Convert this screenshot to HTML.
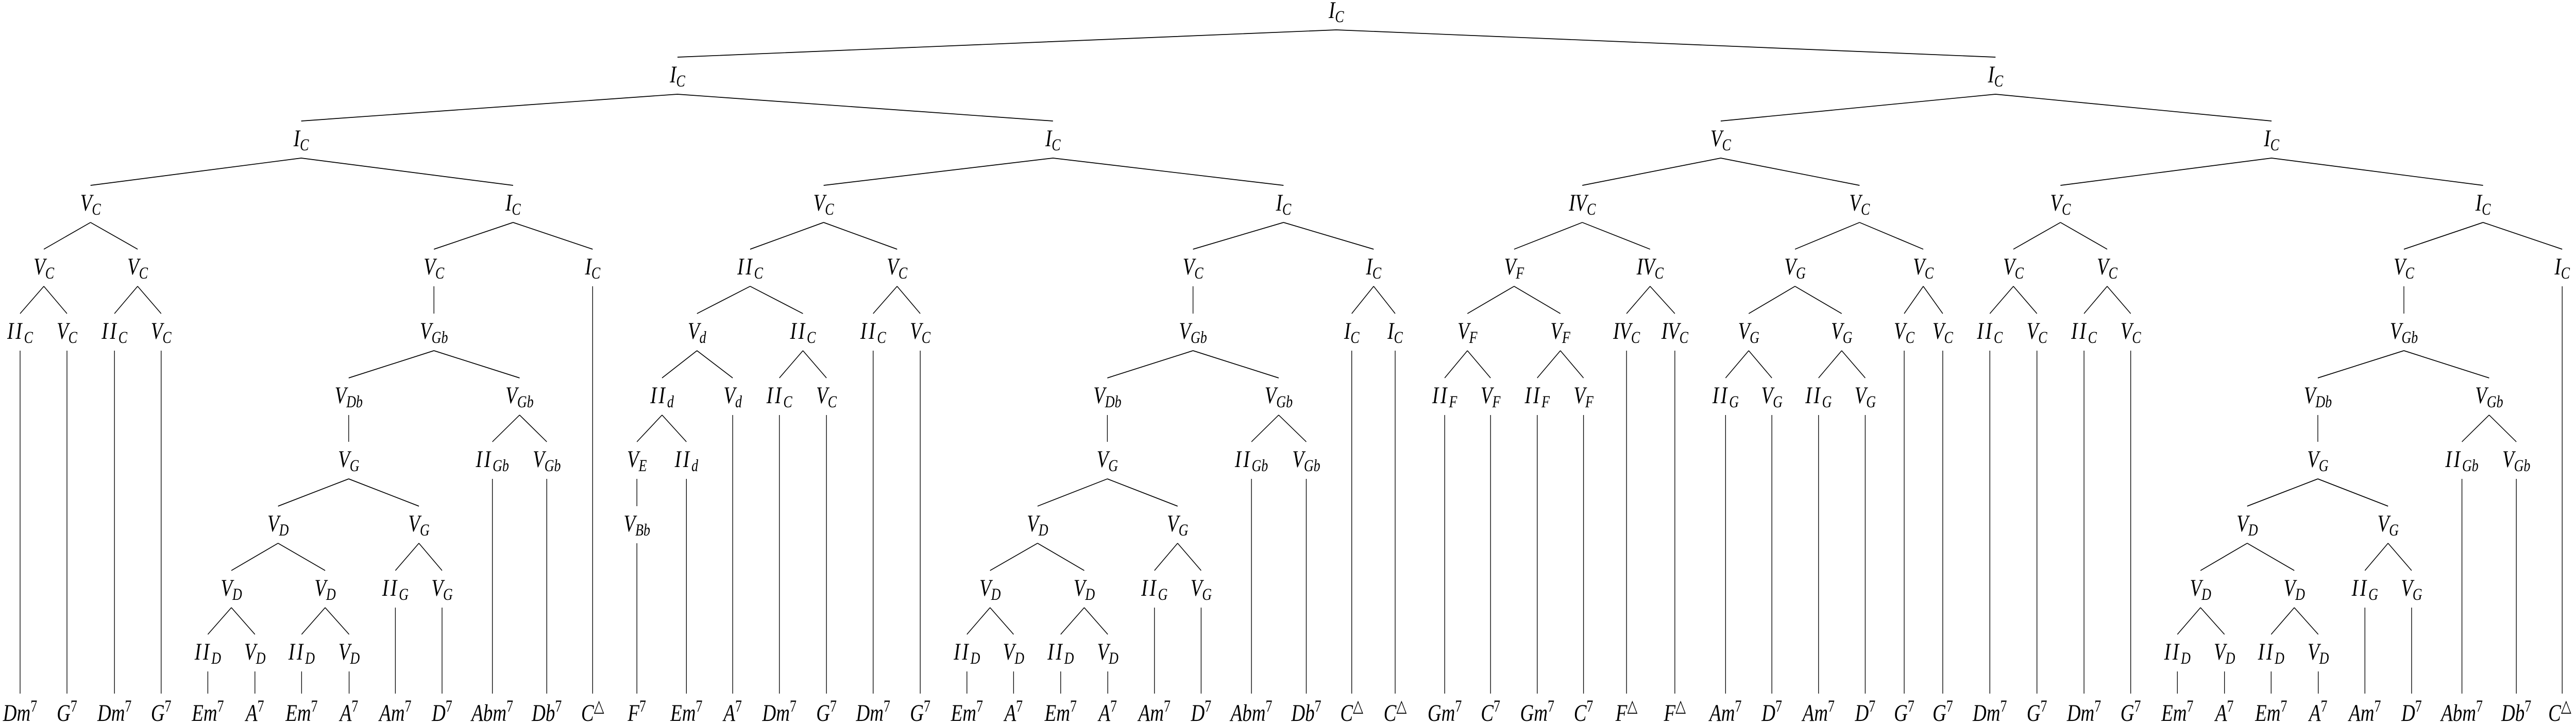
<!DOCTYPE html>
<html><head><meta charset="utf-8"><style>
html,body{margin:0;padding:0;background:#fff;width:100vw;height:100vh;overflow:hidden;}
svg{display:block;width:100vw;height:100vh;}
text{font-family:"Liberation Serif",serif;font-style:italic;font-size:47px;text-anchor:middle;fill:#000;}
.s{font-size:33px;}
.u{font-style:normal;font-size:33px;}
</style></head><body>
<svg viewBox="0 0 6346 1408" preserveAspectRatio="none" xmlns="http://www.w3.org/2000/svg">
<path fill="none" stroke="#000" stroke-width="1.7" d="
M3292 58L1669 111 M3292 58L4916 111
M1669 183L742 235 M1669 183L2594 235
M742 307L223 360 M742 307L1264 360
M223 432L108 484 M223 432L339 484
M108 556L49.5 609 M108 556L165 609 M339 556L282 609 M339 556L397 609
M49.5 681V1347 M165 681V1347 M282 681V1347 M397 681V1347
M1264 432L1069 484 M1264 432L1460 484
M1069 556V609
M1069 681L859 734 M1069 681L1280 734
M859 806V858
M859 930L685 983 M859 930L1032 983
M685 1055L570 1108 M685 1055L801 1108
M570 1180L512 1232 M570 1180L628 1232 M801 1180L743 1232 M801 1180L860 1232
M512 1304V1347 M628 1304V1347 M743 1304V1347 M860 1304V1347
M1032 1055L974 1108 M1032 1055L1089 1108
M974 1180V1347 M1089 1180V1347
M1280 806L1213 858 M1280 806L1347 858
M1213 930V1347 M1347 930V1347
M1460 556V1347
M2594 307L2029 360 M2594 307L3162 360
M2029 432L1848 484 M2029 432L2210 484
M1848 556L1717 609 M1848 556L1978 609
M1717 681L1631 734 M1717 681L1805 734
M1631 806L1569 858 M1631 806L1691 858
M1569 930V983 M1569 1055V1347 M1691 930V1347 M1805 806V1347
M1978 681L1920 734 M1978 681L2036 734 M1920 806V1347 M2036 806V1347
M2210 556L2151 609 M2210 556L2267 609 M2151 681V1347 M2267 681V1347
M3162 432L2939 484 M3162 432L3384 484
M2939 556V609
M2939 681L2728 734 M2939 681L3150 734
M2728 806V858
M2728 930L2556 983 M2728 930L2901 983
M2556 1055L2439 1108 M2556 1055L2671 1108
M2439 1180L2382 1232 M2439 1180L2497 1232 M2671 1180L2613 1232 M2671 1180L2729 1232
M2382 1304V1347 M2497 1304V1347 M2613 1304V1347 M2729 1304V1347
M2901 1055L2844 1108 M2901 1055L2959 1108 M2844 1180V1347 M2959 1180V1347
M3150 806L3083 858 M3150 806L3218 858 M3083 930V1347 M3218 930V1347
M3384 556L3330 609 M3384 556L3437 609 M3330 681V1347 M3437 681V1347
M4916 183L4239 235 M4916 183L5596 235
M4239 307L3898 360 M4239 307L4581 360
M3898 432L3730 484 M3898 432L4065 484
M3730 556L3615 609 M3730 556L3844 609
M3615 681L3559 734 M3615 681L3672 734 M3844 681L3787 734 M3844 681L3901 734
M3559 806V1347 M3672 806V1347 M3787 806V1347 M3901 806V1347
M4065 556L4007 609 M4065 556L4126 609 M4007 681V1347 M4126 681V1347
M4581 432L4422 484 M4581 432L4738 484
M4422 556L4308 609 M4422 556L4537 609
M4308 681L4251 734 M4308 681L4365 734 M4537 681L4480 734 M4537 681L4595 734
M4251 806V1347 M4365 806V1347 M4480 806V1347 M4595 806V1347
M4738 556L4691 609 M4738 556L4786 609 M4691 681V1347 M4786 681V1347
M5596 307L5076 360 M5596 307L6117 360
M5076 432L4960 484 M5076 432L5191 484
M4960 556L4902 609 M4960 556L5018 609 M5191 556L5134 609 M5191 556L5249 609
M4902 681V1347 M5018 681V1347 M5134 681V1347 M5249 681V1347
M6117 432L5922 484 M6117 432L6312 484
M5922 556V609
M5922 681L5710 734 M5922 681L6132 734
M5710 806V858
M5710 930L5536 983 M5710 930L5883 983
M5536 1055L5421 1108 M5536 1055L5652 1108
M5421 1180L5364 1232 M5421 1180L5480 1232 M5652 1180L5595 1232 M5652 1180L5711 1232
M5364 1304V1347 M5480 1304V1347 M5595 1304V1347 M5711 1304V1347
M5883 1055L5826 1108 M5883 1055L5941 1108 M5826 1180V1347 M5941 1180V1347
M6132 806L6065 858 M6132 806L6199 858 M6065 930V1347 M6199 930V1347
M6312 556V1347"/>

<text x="3292" y="35">I<tspan class="s" dy="8">C</tspan></text>
<text x="1669" y="160">I<tspan class="s" dy="8">C</tspan></text>
<text x="4916" y="160">I<tspan class="s" dy="8">C</tspan></text>
<text x="742" y="284">I<tspan class="s" dy="8">C</tspan></text>
<text x="2594" y="284">I<tspan class="s" dy="8">C</tspan></text>
<text x="4239" y="284">V<tspan class="s" dy="8">C</tspan></text>
<text x="5596" y="284">I<tspan class="s" dy="8">C</tspan></text>
<text x="223" y="409">V<tspan class="s" dy="8">C</tspan></text>
<text x="1264" y="409">I<tspan class="s" dy="8">C</tspan></text>
<text x="2029" y="409">V<tspan class="s" dy="8">C</tspan></text>
<text x="3162" y="409">I<tspan class="s" dy="8">C</tspan></text>
<text x="3898" y="409">IV<tspan class="s" dy="8">C</tspan></text>
<text x="4581" y="409">V<tspan class="s" dy="8">C</tspan></text>
<text x="5076" y="409">V<tspan class="s" dy="8">C</tspan></text>
<text x="6117" y="409">I<tspan class="s" dy="8">C</tspan></text>
<text x="108" y="533">V<tspan class="s" dy="8">C</tspan></text>
<text x="339" y="533">V<tspan class="s" dy="8">C</tspan></text>
<text x="1069" y="533">V<tspan class="s" dy="8">C</tspan></text>
<text x="1460" y="533">I<tspan class="s" dy="8">C</tspan></text>
<text x="1848" y="533"><tspan letter-spacing="5">II</tspan><tspan class="s" dy="8">C</tspan></text>
<text x="2210" y="533">V<tspan class="s" dy="8">C</tspan></text>
<text x="2939" y="533">V<tspan class="s" dy="8">C</tspan></text>
<text x="3384" y="533">I<tspan class="s" dy="8">C</tspan></text>
<text x="3730" y="533">V<tspan class="s" dy="8">F</tspan></text>
<text x="4065" y="533">IV<tspan class="s" dy="8">C</tspan></text>
<text x="4422" y="533">V<tspan class="s" dy="8">G</tspan></text>
<text x="4738" y="533">V<tspan class="s" dy="8">C</tspan></text>
<text x="4960" y="533">V<tspan class="s" dy="8">C</tspan></text>
<text x="5191" y="533">V<tspan class="s" dy="8">C</tspan></text>
<text x="5922" y="533">V<tspan class="s" dy="8">C</tspan></text>
<text x="6312" y="533">I<tspan class="s" dy="8">C</tspan></text>
<text x="49.5" y="658"><tspan letter-spacing="5">II</tspan><tspan class="s" dy="8">C</tspan></text>
<text x="165" y="658">V<tspan class="s" dy="8">C</tspan></text>
<text x="282" y="658"><tspan letter-spacing="5">II</tspan><tspan class="s" dy="8">C</tspan></text>
<text x="397" y="658">V<tspan class="s" dy="8">C</tspan></text>
<text x="1069" y="658">V<tspan class="s" dy="8">Gb</tspan></text>
<text x="1717" y="658">V<tspan class="s" dy="8">d</tspan></text>
<text x="1978" y="658"><tspan letter-spacing="5">II</tspan><tspan class="s" dy="8">C</tspan></text>
<text x="2151" y="658"><tspan letter-spacing="5">II</tspan><tspan class="s" dy="8">C</tspan></text>
<text x="2267" y="658">V<tspan class="s" dy="8">C</tspan></text>
<text x="2939" y="658">V<tspan class="s" dy="8">Gb</tspan></text>
<text x="3330" y="658">I<tspan class="s" dy="8">C</tspan></text>
<text x="3437" y="658">I<tspan class="s" dy="8">C</tspan></text>
<text x="3615" y="658">V<tspan class="s" dy="8">F</tspan></text>
<text x="3844" y="658">V<tspan class="s" dy="8">F</tspan></text>
<text x="4007" y="658">IV<tspan class="s" dy="8">C</tspan></text>
<text x="4126" y="658">IV<tspan class="s" dy="8">C</tspan></text>
<text x="4308" y="658">V<tspan class="s" dy="8">G</tspan></text>
<text x="4537" y="658">V<tspan class="s" dy="8">G</tspan></text>
<text x="4691" y="658">V<tspan class="s" dy="8">C</tspan></text>
<text x="4786" y="658">V<tspan class="s" dy="8">C</tspan></text>
<text x="4902" y="658"><tspan letter-spacing="5">II</tspan><tspan class="s" dy="8">C</tspan></text>
<text x="5018" y="658">V<tspan class="s" dy="8">C</tspan></text>
<text x="5134" y="658"><tspan letter-spacing="5">II</tspan><tspan class="s" dy="8">C</tspan></text>
<text x="5249" y="658">V<tspan class="s" dy="8">C</tspan></text>
<text x="5922" y="658">V<tspan class="s" dy="8">Gb</tspan></text>
<text x="859" y="783">V<tspan class="s" dy="8">Db</tspan></text>
<text x="1280" y="783">V<tspan class="s" dy="8">Gb</tspan></text>
<text x="1631" y="783"><tspan letter-spacing="5">II</tspan><tspan class="s" dy="8">d</tspan></text>
<text x="1805" y="783">V<tspan class="s" dy="8">d</tspan></text>
<text x="1920" y="783"><tspan letter-spacing="5">II</tspan><tspan class="s" dy="8">C</tspan></text>
<text x="2036" y="783">V<tspan class="s" dy="8">C</tspan></text>
<text x="2728" y="783">V<tspan class="s" dy="8">Db</tspan></text>
<text x="3150" y="783">V<tspan class="s" dy="8">Gb</tspan></text>
<text x="3559" y="783"><tspan letter-spacing="5">II</tspan><tspan class="s" dy="8">F</tspan></text>
<text x="3672" y="783">V<tspan class="s" dy="8">F</tspan></text>
<text x="3787" y="783"><tspan letter-spacing="5">II</tspan><tspan class="s" dy="8">F</tspan></text>
<text x="3901" y="783">V<tspan class="s" dy="8">F</tspan></text>
<text x="4251" y="783"><tspan letter-spacing="5">II</tspan><tspan class="s" dy="8">G</tspan></text>
<text x="4365" y="783">V<tspan class="s" dy="8">G</tspan></text>
<text x="4480" y="783"><tspan letter-spacing="5">II</tspan><tspan class="s" dy="8">G</tspan></text>
<text x="4595" y="783">V<tspan class="s" dy="8">G</tspan></text>
<text x="5710" y="783">V<tspan class="s" dy="8">Db</tspan></text>
<text x="6132" y="783">V<tspan class="s" dy="8">Gb</tspan></text>
<text x="859" y="907">V<tspan class="s" dy="8">G</tspan></text>
<text x="1213" y="907"><tspan letter-spacing="5">II</tspan><tspan class="s" dy="8">Gb</tspan></text>
<text x="1347" y="907">V<tspan class="s" dy="8">Gb</tspan></text>
<text x="1569" y="907">V<tspan class="s" dy="8">E</tspan></text>
<text x="1691" y="907"><tspan letter-spacing="5">II</tspan><tspan class="s" dy="8">d</tspan></text>
<text x="2728" y="907">V<tspan class="s" dy="8">G</tspan></text>
<text x="3083" y="907"><tspan letter-spacing="5">II</tspan><tspan class="s" dy="8">Gb</tspan></text>
<text x="3218" y="907">V<tspan class="s" dy="8">Gb</tspan></text>
<text x="5710" y="907">V<tspan class="s" dy="8">G</tspan></text>
<text x="6065" y="907"><tspan letter-spacing="5">II</tspan><tspan class="s" dy="8">Gb</tspan></text>
<text x="6199" y="907">V<tspan class="s" dy="8">Gb</tspan></text>
<text x="685" y="1032">V<tspan class="s" dy="8">D</tspan></text>
<text x="1032" y="1032">V<tspan class="s" dy="8">G</tspan></text>
<text x="1569" y="1032">V<tspan class="s" dy="8">Bb</tspan></text>
<text x="2556" y="1032">V<tspan class="s" dy="8">D</tspan></text>
<text x="2901" y="1032">V<tspan class="s" dy="8">G</tspan></text>
<text x="5536" y="1032">V<tspan class="s" dy="8">D</tspan></text>
<text x="5883" y="1032">V<tspan class="s" dy="8">G</tspan></text>
<text x="570" y="1157">V<tspan class="s" dy="8">D</tspan></text>
<text x="801" y="1157">V<tspan class="s" dy="8">D</tspan></text>
<text x="974" y="1157"><tspan letter-spacing="5">II</tspan><tspan class="s" dy="8">G</tspan></text>
<text x="1089" y="1157">V<tspan class="s" dy="8">G</tspan></text>
<text x="2439" y="1157">V<tspan class="s" dy="8">D</tspan></text>
<text x="2671" y="1157">V<tspan class="s" dy="8">D</tspan></text>
<text x="2844" y="1157"><tspan letter-spacing="5">II</tspan><tspan class="s" dy="8">G</tspan></text>
<text x="2959" y="1157">V<tspan class="s" dy="8">G</tspan></text>
<text x="5421" y="1157">V<tspan class="s" dy="8">D</tspan></text>
<text x="5652" y="1157">V<tspan class="s" dy="8">D</tspan></text>
<text x="5826" y="1157"><tspan letter-spacing="5">II</tspan><tspan class="s" dy="8">G</tspan></text>
<text x="5941" y="1157">V<tspan class="s" dy="8">G</tspan></text>
<text x="512" y="1281"><tspan letter-spacing="5">II</tspan><tspan class="s" dy="8">D</tspan></text>
<text x="628" y="1281">V<tspan class="s" dy="8">D</tspan></text>
<text x="743" y="1281"><tspan letter-spacing="5">II</tspan><tspan class="s" dy="8">D</tspan></text>
<text x="860" y="1281">V<tspan class="s" dy="8">D</tspan></text>
<text x="2382" y="1281"><tspan letter-spacing="5">II</tspan><tspan class="s" dy="8">D</tspan></text>
<text x="2497" y="1281">V<tspan class="s" dy="8">D</tspan></text>
<text x="2613" y="1281"><tspan letter-spacing="5">II</tspan><tspan class="s" dy="8">D</tspan></text>
<text x="2729" y="1281">V<tspan class="s" dy="8">D</tspan></text>
<text x="5364" y="1281"><tspan letter-spacing="5">II</tspan><tspan class="s" dy="8">D</tspan></text>
<text x="5480" y="1281">V<tspan class="s" dy="8">D</tspan></text>
<text x="5595" y="1281"><tspan letter-spacing="5">II</tspan><tspan class="s" dy="8">D</tspan></text>
<text x="5711" y="1281">V<tspan class="s" dy="8">D</tspan></text>
<text x="49.5" y="1400">Dm<tspan class="u" dy="-18">7</tspan></text>
<text x="165" y="1400">G<tspan class="u" dy="-18">7</tspan></text>
<text x="282" y="1400">Dm<tspan class="u" dy="-18">7</tspan></text>
<text x="397" y="1400">G<tspan class="u" dy="-18">7</tspan></text>
<text x="512" y="1400">Em<tspan class="u" dy="-18">7</tspan></text>
<text x="628" y="1400">A<tspan class="u" dy="-18">7</tspan></text>
<text x="743" y="1400">Em<tspan class="u" dy="-18">7</tspan></text>
<text x="860" y="1400">A<tspan class="u" dy="-18">7</tspan></text>
<text x="974" y="1400">Am<tspan class="u" dy="-18">7</tspan></text>
<text x="1089" y="1400">D<tspan class="u" dy="-18">7</tspan></text>
<text x="1213" y="1400">Abm<tspan class="u" dy="-18">7</tspan></text>
<text x="1347" y="1400">Db<tspan class="u" dy="-18">7</tspan></text>
<text x="1460" y="1400">C<tspan class="u" dy="-18">△</tspan></text>
<text x="1569" y="1400">F<tspan class="u" dy="-18">7</tspan></text>
<text x="1691" y="1400">Em<tspan class="u" dy="-18">7</tspan></text>
<text x="1805" y="1400">A<tspan class="u" dy="-18">7</tspan></text>
<text x="1920" y="1400">Dm<tspan class="u" dy="-18">7</tspan></text>
<text x="2036" y="1400">G<tspan class="u" dy="-18">7</tspan></text>
<text x="2151" y="1400">Dm<tspan class="u" dy="-18">7</tspan></text>
<text x="2267" y="1400">G<tspan class="u" dy="-18">7</tspan></text>
<text x="2382" y="1400">Em<tspan class="u" dy="-18">7</tspan></text>
<text x="2497" y="1400">A<tspan class="u" dy="-18">7</tspan></text>
<text x="2613" y="1400">Em<tspan class="u" dy="-18">7</tspan></text>
<text x="2729" y="1400">A<tspan class="u" dy="-18">7</tspan></text>
<text x="2844" y="1400">Am<tspan class="u" dy="-18">7</tspan></text>
<text x="2959" y="1400">D<tspan class="u" dy="-18">7</tspan></text>
<text x="3083" y="1400">Abm<tspan class="u" dy="-18">7</tspan></text>
<text x="3218" y="1400">Db<tspan class="u" dy="-18">7</tspan></text>
<text x="3330" y="1400">C<tspan class="u" dy="-18">△</tspan></text>
<text x="3437" y="1400">C<tspan class="u" dy="-18">△</tspan></text>
<text x="3559" y="1400">Gm<tspan class="u" dy="-18">7</tspan></text>
<text x="3672" y="1400">C<tspan class="u" dy="-18">7</tspan></text>
<text x="3787" y="1400">Gm<tspan class="u" dy="-18">7</tspan></text>
<text x="3901" y="1400">C<tspan class="u" dy="-18">7</tspan></text>
<text x="4007" y="1400">F<tspan class="u" dy="-18">△</tspan></text>
<text x="4126" y="1400">F<tspan class="u" dy="-18">△</tspan></text>
<text x="4251" y="1400">Am<tspan class="u" dy="-18">7</tspan></text>
<text x="4365" y="1400">D<tspan class="u" dy="-18">7</tspan></text>
<text x="4480" y="1400">Am<tspan class="u" dy="-18">7</tspan></text>
<text x="4595" y="1400">D<tspan class="u" dy="-18">7</tspan></text>
<text x="4691" y="1400">G<tspan class="u" dy="-18">7</tspan></text>
<text x="4786" y="1400">G<tspan class="u" dy="-18">7</tspan></text>
<text x="4902" y="1400">Dm<tspan class="u" dy="-18">7</tspan></text>
<text x="5018" y="1400">G<tspan class="u" dy="-18">7</tspan></text>
<text x="5134" y="1400">Dm<tspan class="u" dy="-18">7</tspan></text>
<text x="5249" y="1400">G<tspan class="u" dy="-18">7</tspan></text>
<text x="5364" y="1400">Em<tspan class="u" dy="-18">7</tspan></text>
<text x="5480" y="1400">A<tspan class="u" dy="-18">7</tspan></text>
<text x="5595" y="1400">Em<tspan class="u" dy="-18">7</tspan></text>
<text x="5711" y="1400">A<tspan class="u" dy="-18">7</tspan></text>
<text x="5826" y="1400">Am<tspan class="u" dy="-18">7</tspan></text>
<text x="5941" y="1400">D<tspan class="u" dy="-18">7</tspan></text>
<text x="6065" y="1400">Abm<tspan class="u" dy="-18">7</tspan></text>
<text x="6199" y="1400">Db<tspan class="u" dy="-18">7</tspan></text>
<text x="6306" y="1400">C<tspan class="u" dy="-18">△</tspan></text>
</svg>
</body></html>
